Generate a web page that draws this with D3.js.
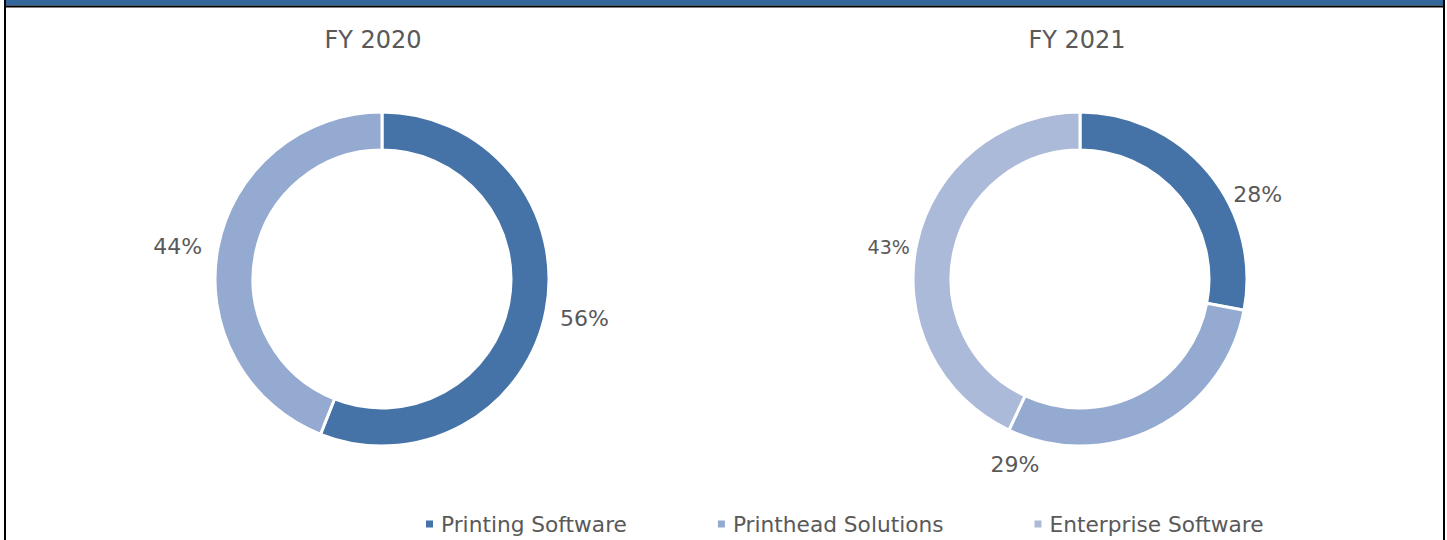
<!DOCTYPE html>
<html>
<head>
<meta charset="utf-8">
<script src="https://cdn.jsdelivr.net/npm/d3@7"></script>
<style>
  html, body { margin: 0; padding: 0; background: #fff; }
  svg { display: block; font-family: Verdana, "DejaVu Sans", sans-serif; }
</style>
</head>
<body>
<svg id="chart"></svg>
<script>
// data
var categories = ["Printing Software", "Printhead Solutions", "Enterprise Software"];
var years = ["FY 2020", "FY 2021"];
var fy2020 = [56, 44, 0];
var fy2021 = [28, 29, 43];
var seriesByYear = [fy2020, fy2021];

// layout / style
var width = 1447, height = 540;
var colour = d3.scaleOrdinal().domain(categories).range(["#4573a7", "#95aad0", "#abbad9"]);
var textColour = "#595959";
var outerR = 167, innerR = 129, cy = 279;

// where excel dropped the data labels: [fraction along slice, radius, font size]
var labelPlace = [
  [[0.5, 206, 22], [0.49, 207, 22], null],
  [[0.64, 197, 22], [0.944, 196, 22], [0.48, 194, 19]]
];
var titleShift = [-9, -3];

var svg = d3.select("#chart")
  .attr("width", width)
  .attr("height", height);

// frame: blue header strip + black borders
svg.append("rect").attr("x", 6).attr("y", 0).attr("width", 1437).attr("height", 5.5).attr("fill", "#33669a");
svg.append("line").attr("x1", 4).attr("x2", 1445).attr("y1", 6.4).attr("y2", 6.4).attr("stroke", "#000").attr("stroke-width", 2);
svg.append("line").attr("x1", 5).attr("x2", 5).attr("y1", 0).attr("y2", height).attr("stroke", "#000").attr("stroke-width", 2);
svg.append("line").attr("x1", 1444).attr("x2", 1444).attr("y1", 0).attr("y2", height).attr("stroke", "#000").attr("stroke-width", 2);

var x = d3.scalePoint().domain(years).range([382, 1080]);

var pie = d3.pie().value(function(d) { return d.value; }).sort(null);
var arc = d3.arc().innerRadius(innerR).outerRadius(outerR);

years.forEach(function(year, yi) {
  var data = categories.map(function(c, i) { return { label: c, value: seriesByYear[yi][i] }; });
  var g = svg.append("g").attr("transform", "translate(" + x(year) + "," + cy + ")");

  svg.append("text")
    .attr("x", x(year) + titleShift[yi])
    .attr("y", 48)
    .attr("text-anchor", "middle")
    .attr("font-size", 24)
    .attr("fill", textColour)
    .text(year);

  var slices = pie(data).filter(function(d) { return d.data.value > 0; });

  g.selectAll("path")
    .data(slices)
    .enter().append("path")
    .attr("d", arc)
    .attr("fill", function(d) { return colour(d.data.label); })
    .attr("stroke", "#fff")
    .attr("stroke-width", 3);

  g.selectAll("text.lbl")
    .data(slices)
    .enter().append("text")
    .attr("class", "lbl")
    .each(function(d) {
      var p = labelPlace[yi][d.index];
      var a = d.startAngle + p[0] * (d.endAngle - d.startAngle);
      d3.select(this)
        .attr("x", p[1] * Math.sin(a))
        .attr("y", -p[1] * Math.cos(a))
        .attr("font-size", p[2]);
    })
    .attr("dy", "0.36em")
    .attr("text-anchor", "middle")
    .attr("fill", textColour)
    .text(function(d) { return d.data.value + "%"; });
});

// legend
var legend = svg.append("g").attr("transform", "translate(426,524)");
var lx = 0;
categories.forEach(function(c) {
  var item = legend.append("g").attr("transform", "translate(" + lx + ",0)");
  item.append("rect").attr("x", 0).attr("y", -3.5).attr("width", 7).attr("height", 7).attr("fill", colour(c));
  var t = item.append("text")
    .attr("x", 15)
    .attr("dy", "0.36em")
    .attr("font-size", 21.7)
    .attr("fill", textColour)
    .text(c);
  lx += 15 + t.node().getComputedTextLength() + 91;
});
</script>
</body>
</html>
